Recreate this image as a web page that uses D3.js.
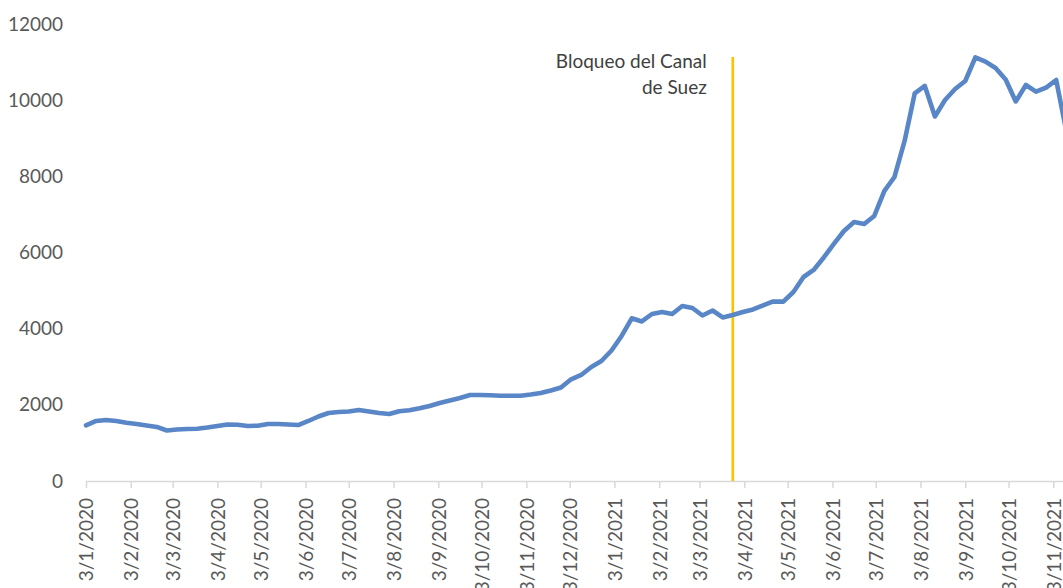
<!DOCTYPE html>
<html>
<head>
<meta charset="utf-8">
<script src="https://cdn.jsdelivr.net/npm/d3@7"></script>
<style>
  html, body { margin: 0; padding: 0; background: #ffffff; overflow: hidden; }
  svg { display: block; }
  text { font-family: Lato, "Open Sans", sans-serif; }
</style>
</head>
<body>
<svg id="chart" width="1063" height="588"></svg>
<script>
// ---- data ----
const dates = [
  "2020-01-03","2020-01-10","2020-01-17","2020-01-24","2020-01-31",
  "2020-02-07","2020-02-14","2020-02-21","2020-02-28",
  "2020-03-06","2020-03-13","2020-03-20","2020-03-27",
  "2020-04-03","2020-04-10","2020-04-17","2020-04-24",
  "2020-05-01","2020-05-08","2020-05-15","2020-05-22","2020-05-29",
  "2020-06-05","2020-06-12","2020-06-19","2020-06-26",
  "2020-07-03","2020-07-10","2020-07-17","2020-07-24","2020-07-31",
  "2020-08-07","2020-08-14","2020-08-21","2020-08-28",
  "2020-09-04","2020-09-11","2020-09-18","2020-09-25",
  "2020-10-02","2020-10-09","2020-10-16","2020-10-23","2020-10-30",
  "2020-11-06","2020-11-13","2020-11-20","2020-11-27",
  "2020-12-04","2020-12-11","2020-12-18","2020-12-25",
  "2021-01-01","2021-01-08","2021-01-15","2021-01-22","2021-01-29",
  "2021-02-05","2021-02-12","2021-02-19","2021-02-26",
  "2021-03-05","2021-03-12","2021-03-19","2021-03-26",
  "2021-04-02","2021-04-09","2021-04-16","2021-04-23","2021-04-30",
  "2021-05-07","2021-05-14","2021-05-21","2021-05-28",
  "2021-06-04","2021-06-11","2021-06-18","2021-06-25",
  "2021-07-02","2021-07-09","2021-07-16","2021-07-23","2021-07-30",
  "2021-08-06","2021-08-13","2021-08-20","2021-08-27",
  "2021-09-03","2021-09-10","2021-09-17","2021-09-24",
  "2021-10-01","2021-10-08","2021-10-15","2021-10-22","2021-10-29",
  "2021-11-05","2021-11-12"
];
const values = [
  1463, 1576, 1602, 1576, 1531, 1497, 1457, 1420, 1326, 1352,
  1365, 1373, 1405, 1444, 1484, 1478, 1444, 1452, 1497, 1497,
  1484, 1470, 1576, 1694, 1786, 1812, 1825, 1865, 1825, 1786,
  1760, 1830, 1857, 1909, 1970, 2048, 2114, 2180, 2258, 2258,
  2250, 2240, 2240, 2240, 2270, 2311, 2377, 2455, 2670, 2784,
  2994, 3151, 3427, 3808, 4273, 4189, 4385, 4438, 4385, 4596,
  4543, 4346, 4477, 4294, 4359, 4438, 4504, 4609, 4714, 4709,
  4963, 5357, 5541, 5869, 6224, 6565, 6801, 6749, 6959, 7616,
  7983, 8929, 10176, 10373, 9572, 10005, 10294, 10504, 11121, 11011,
  10846, 10544, 9966, 10399, 10223, 10328, 10530, 9190
];
const xTickLabels = [
  "3/1/2020","3/2/2020","3/3/2020","3/4/2020","3/5/2020","3/6/2020",
  "3/7/2020","3/8/2020","3/9/2020","3/10/2020","3/11/2020","3/12/2020",
  "3/1/2021","3/2/2021","3/3/2021","3/4/2021","3/5/2021","3/6/2021",
  "3/7/2021","3/8/2021","3/9/2021","3/10/2021","3/11/2021"
];
const yTicks = [0, 2000, 4000, 6000, 8000, 10000, 12000];
const eventDate = "2021-03-26";
const eventLabel = ["Bloqueo del Canal", "de Suez"];

// ---- helpers ----
const parseISO = s => { const [y, m, d] = s.split("-").map(Number); return new Date(Date.UTC(y, m - 1, d)); };
const parseDMY = s => { const [d, m, y] = s.split("/").map(Number); return new Date(Date.UTC(y, m - 1, d)); };

const data = dates.map((d, i) => ({ date: parseISO(d), value: values[i] }));
const tickDates = xTickLabels.map(parseDMY);

// ---- layout ----
const svg = d3.select("#chart");
const left = 86, firstTickPx = 86, lastTickPx = 1053.3;
const y0 = 481, yTop = 24;

const tFirst = tickDates[0], tLast = tickDates[tickDates.length - 1];
const dayMs = 864e5;
const pxPerDay = (lastTickPx - firstTickPx) / ((tLast - tFirst) / dayMs);
const domainEnd = new Date(tLast.getTime() + 20 * dayMs);
const x = d3.scaleUtc()
  .domain([tFirst, domainEnd])
  .range([firstTickPx, firstTickPx + pxPerDay * ((domainEnd - tFirst) / dayMs)]);
const y = d3.scaleLinear().domain([0, 12000]).range([y0, yTop]);

const textColor = "#595959";

// y axis (labels only)
const yAxis = svg.append("g")
  .attr("transform", `translate(${left},0)`)
  .call(d3.axisLeft(y).tickValues(yTicks).tickSize(0).tickPadding(23).tickFormat(d3.format("d")));
yAxis.select(".domain").remove();
yAxis.selectAll("text")
  .attr("fill", textColor)
  .style("font-size", "19px")
  .style("font-family", "Lato, 'Open Sans', sans-serif");

// x axis
const xAxis = svg.append("g")
  .attr("transform", `translate(0,${y0})`)
  .call(d3.axisBottom(x).tickValues(tickDates).tickSize(7).tickSizeOuter(0)
    .tickFormat((d, i) => xTickLabels[i]));
xAxis.select(".domain").attr("stroke", "#D9D9D9").attr("stroke-width", 1.5);
xAxis.selectAll(".tick line").attr("stroke", "#D9D9D9").attr("stroke-width", 1.5);
xAxis.selectAll(".tick text")
  .attr("fill", textColor)
  .style("font-size", "19px")
  .style("font-family", "Lato, 'Open Sans', sans-serif")
  .attr("text-anchor", "end")
  .attr("transform", "rotate(-90)")
  .attr("x", -17)
  .attr("y", 0)
  .attr("dy", "0.36em");

// event line
const ex = x(parseISO(eventDate));
svg.append("line")
  .attr("x1", ex).attr("x2", ex)
  .attr("y1", 57).attr("y2", y(0))
  .attr("stroke", "#FFC000")
  .attr("stroke-width", 2.6);

// event label
const lab = svg.append("text")
  .attr("text-anchor", "end")
  .attr("fill", "#404040")
  .style("font-size", "19px");
eventLabel.forEach((t, i) => {
  lab.append("tspan").attr("x", ex - 26).attr("y", 68 + i * 26).text(t);
});

// line
const line = d3.line().x(d => x(d.date)).y(d => y(d.value));
svg.append("path")
  .datum(data)
  .attr("fill", "none")
  .attr("stroke", "#5886C6")
  .attr("stroke-width", 4.6)
  .attr("stroke-linejoin", "round")
  .attr("stroke-linecap", "round")
  .attr("d", line);
</script>
</body>
</html>
